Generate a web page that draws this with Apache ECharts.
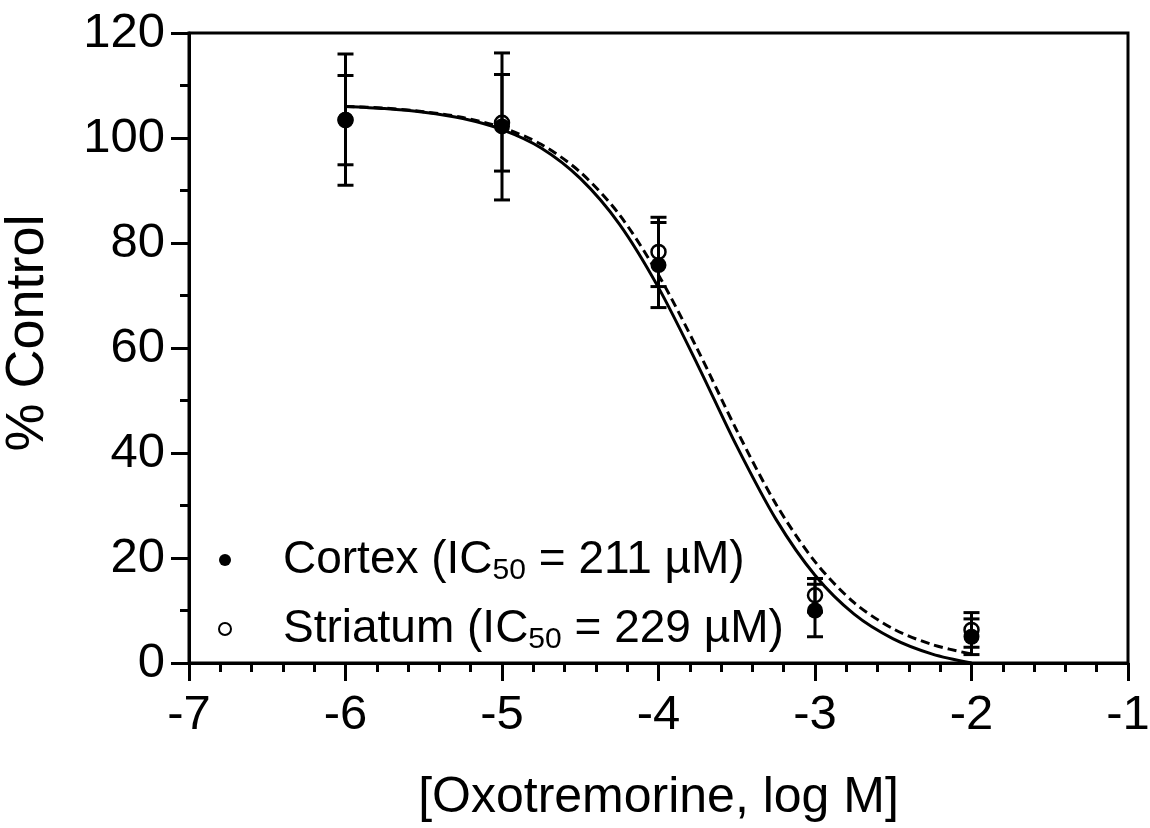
<!DOCTYPE html>
<html>
<head>
<meta charset="utf-8">
<script src="https://cdn.jsdelivr.net/npm/echarts@6/dist/echarts.min.js"></script>
<style>
html,body{margin:0;padding:0;background:#fff;}
#chart{width:1150px;height:828px;}
</style>
</head>
<body>
<div id="chart"></div>
<script>
// ---- data ----
const logConc = [-6, -5, -4, -3, -2];
const cortexMean = [103.5, 102.2, 75.8, 10.0, 5.0];
const cortexErr = [12.5, 14.0, 8.1, 5.0, 3.4];
const striatumMean = [103.4, 102.9, 78.3, 12.9, 6.3];
const striatumErr = [8.5, 9.2, 6.6, 3.2, 3.3];

// fitted curves
const curveX = [-6, -5.75, -5.5, -5.25, -5, -4.75, -4.5, -4.25, -4, -3.75, -3.5, -3.25, -3, -2.75, -2.5, -2.25, -2];
const cortexCurve = [106.0, 105.6, 104.9, 103.7, 101.6, 98.1, 92.3, 83.6, 71.5, 56.8, 41.3, 27.4, 16.7, 9.3, 4.6, 1.7, 0.0];
const striatumCurve = [106.0, 105.7, 105.0, 103.9, 102.0, 98.8, 93.5, 85.4, 73.9, 59.7, 44.3, 30.3, 19.3, 11.5, 6.5, 3.5, 1.7];

const xTicks = [-7, -6, -5, -4, -3, -2, -1];
const yTicks = [0, 20, 40, 60, 80, 100, 120];

const FONT = "'Liberation Sans', Arial, Helvetica, sans-serif";

function pairs(xs, ys) { return xs.map((x, i) => [x, ys[i]]); }
function errData(xs, m, e) { return xs.map((x, i) => [x, m[i] - e[i], m[i] + e[i]]); }

function errRender(params, api) {
  const x = api.value(0), lo = api.value(1), hi = api.value(2);
  const p1 = api.coord([x, lo]);
  const p2 = api.coord([x, hi]);
  const hw = 8;
  const st = { stroke: '#000', lineWidth: 3 };
  return {
    type: 'group',
    children: [
      { type: 'line', shape: { x1: p1[0], y1: p1[1], x2: p2[0], y2: p2[1] }, style: st },
      { type: 'line', shape: { x1: p1[0] - hw, y1: p1[1], x2: p1[0] + hw, y2: p1[1] }, style: st },
      { type: 'line', shape: { x1: p2[0] - hw, y1: p2[1], x2: p2[0] + hw, y2: p2[1] }, style: st }
    ]
  };
}

const chart = echarts.init(document.getElementById('chart'), null, { renderer: 'canvas' });

const option = {
  backgroundColor: '#fff',
  animation: false,
  textStyle: { fontFamily: FONT, color: '#000' },
  grid: {
    left: 189, right: 22, top: 33, bottom: 165,
    containLabel: false, outerBoundsMode: 'none',
    show: true, borderColor: '#000', borderWidth: 3, backgroundColor: 'transparent'
  },
  legend: {
    orient: 'vertical',
    left: 213, top: 532,
    itemWidth: 12, itemHeight: 12,
    itemGap: 20,
    data: ['Cortex', 'Striatum'],
    formatter: function (name) {
      if (name === 'Cortex') return '{n|Cortex (IC}{s|50}{n| = 211 µM)}';
      return '{n|Striatum (IC}{s|50}{n| = 229 µM)}';
    },
    textStyle: {
      fontFamily: FONT, color: '#000', padding: [0, 0, 0, 47],
      rich: {
        n: { fontSize: 46, lineHeight: 52, fontFamily: FONT, color: '#000' },
        s: { fontSize: 30, lineHeight: 30, verticalAlign: 'bottom', fontFamily: FONT, color: '#000' }
      }
    }
  },
  xAxis: {
    type: 'value', min: -7, max: -1, interval: 1,
    name: '[Oxotremorine, log M]',
    nameLocation: 'middle', nameGap: 110,
    nameTextStyle: { fontSize: 50, fontFamily: FONT, color: '#000' },
    axisLine: { show: true, onZero: false, lineStyle: { color: '#000', width: 3 } },
    axisTick: { show: true, length: 18, lineStyle: { color: '#000', width: 3 } },
    minorTick: { show: true, splitNumber: 5, length: 9, lineStyle: { color: '#000', width: 3 } },
    axisLabel: { fontSize: 49, color: '#000', margin: 28, fontFamily: FONT,
      formatter: v => String(v) },
    splitLine: { show: false }
  },
  yAxis: {
    type: 'value', min: 0, max: 120, interval: 20,
    name: '% Control',
    nameLocation: 'middle', nameGap: 134,
    nameTextStyle: { fontSize: 54, fontFamily: FONT, color: '#000', padding: [0, 0, 0, 30] },
    axisLine: { show: true, onZero: false, lineStyle: { color: '#000', width: 3 } },
    axisTick: { show: true, length: 18, lineStyle: { color: '#000', width: 3 } },
    minorTick: { show: true, splitNumber: 2, length: 9, lineStyle: { color: '#000', width: 3 } },
    axisLabel: { fontSize: 49, color: '#000', margin: 24, fontFamily: FONT },
    splitLine: { show: false }
  },
  series: [
    {
      name: 'CortexFit', type: 'line', data: pairs(curveX, cortexCurve),
      smooth: 0.3, showSymbol: false, silent: true, z: 2,
      lineStyle: { color: '#000', width: 3, type: 'solid' }
    },
    {
      name: 'StriatumFit', type: 'line', data: pairs(curveX, striatumCurve),
      smooth: 0.3, showSymbol: false, silent: true, z: 2,
      lineStyle: { color: '#000', width: 3, type: [9, 5] }
    },
    {
      name: 'CortexErr', type: 'custom', renderItem: errRender,
      data: errData(logConc, cortexMean, cortexErr), z: 3, silent: true,
      encode: { x: 0, y: [1, 2] }
    },
    {
      name: 'StriatumErr', type: 'custom', renderItem: errRender,
      data: errData(logConc, striatumMean, striatumErr), z: 3, silent: true,
      encode: { x: 0, y: [1, 2] }
    },
    {
      name: 'Cortex', type: 'scatter', data: pairs(logConc, cortexMean),
      symbol: 'circle', symbolSize: 16, z: 4,
      itemStyle: { color: '#000', borderColor: '#000', borderWidth: 0, opacity: 1 }
    },
    {
      name: 'Striatum', type: 'scatter', data: pairs(logConc, striatumMean),
      symbol: 'circle', symbolSize: 14, z: 5,
      itemStyle: { color: 'rgba(255,255,255,0)', borderColor: '#000', borderWidth: 2.5, opacity: 1 }
    }
  ]
};

chart.setOption(option);
</script>
</body>
</html>
